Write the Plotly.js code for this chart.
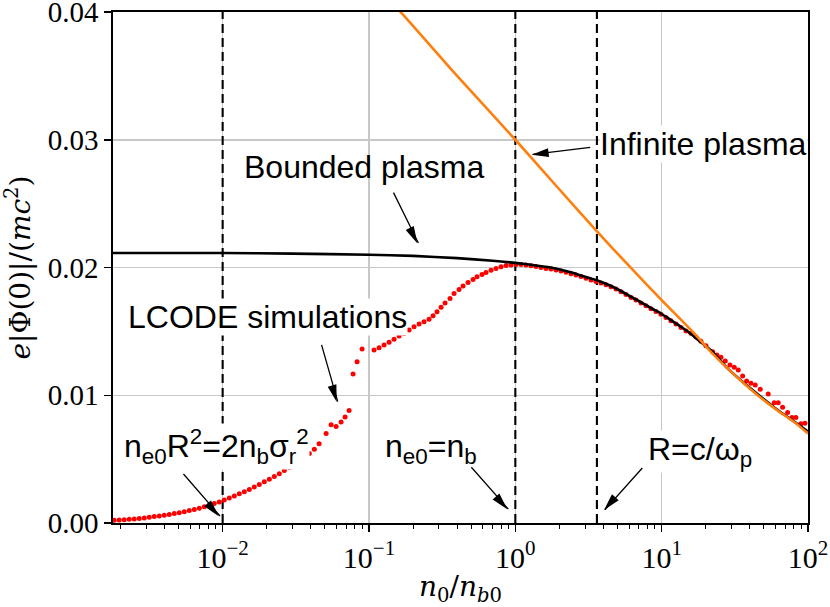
<!DOCTYPE html>
<html>
<head>
<meta charset="utf-8">
<script src="https://cdn.plot.ly/plotly-3.0.1.min.js"></script>
<style>html,body{margin:0;padding:0;background:#fff;}#chart{width:830px;height:607px;}</style>
</head>
<body>
<div id="chart"></div>
<script>
// LCODE simulations (red dots)
const simX = [0.001815,0.001964,0.002125,0.002299,0.002487,0.002691,0.002911,0.003150,0.003408,0.003687,
  0.003989,0.004316,0.004669,0.005052,0.005465,0.005913,0.006397,0.006921,0.007488,0.008101,
  0.008765,0.009483,0.01026,0.0111,0.01201,0.01299,0.01406,0.01521,0.01645,0.0178,
  0.01926,0.02084,0.02254,0.02439,0.02639,0.02855,0.03089,0.03342,0.03616,0.03912,
  0.04232,0.04561,0.05093,0.05509,0.05961,0.06447,0.06866,0.07311,0.07785,0.08292,0.08973,
  0.1083,0.1172,0.1268,0.1372,0.1484,0.1606,0.1737,0.1879,0.2032,0.2199,
  0.2378,0.2573,0.2741,0.2918,0.3108,0.3310,0.3580,0.3813,0.4125,0.4393,
  0.4752,0.5141,0.5474,0.5922,0.6307,0.6823,0.7381,0.7989,0.8641,0.9346,1.011,
  1.094,1.183,1.280,1.385,1.498,1.621,1.753,1.897,2.052,2.220,
  2.402,2.598,2.811,3.041,3.290,3.559,3.850,4.165,4.506,4.875,
  5.272,5.705,6.171,6.676,7.223,7.813,8.452,9.144,9.890,10.70,
  11.57,12.52,13.55,14.66,15.85,17.15,18.55,20.07,
  22.31,23.86,25.42,27.20,29.28,31.33,33.37,35.75,38.07,40.74,
  43.59,47.16,53.46,58.76,62.57,67.06,72.56,77.63,82.67,89.43,95.24];
const simY = [0.00022,0.00024,0.00026,0.00029,0.00032,0.00036,0.00040,0.00045,0.00050,0.00055,
  0.00061,0.00067,0.00074,0.00081,0.00089,0.00097,0.00106,0.00116,0.00127,0.00139,
  0.00152,0.00165,0.00180,0.00195,0.00211,0.00228,0.00245,0.00263,0.00282,0.00302,
  0.00322,0.00343,0.00364,0.00386,0.00410,0.00434,0.00459,0.00486,0.00515,0.00545,
  0.00578,0.0062,0.0070,0.0077,0.00755,0.0079,0.0083,0.0088,0.01166,0.01263,0.01362,
  0.01354,0.01372,0.01393,0.01414,0.01438,0.01463,0.01484,0.01510,0.01536,0.01557,
  0.01575,0.01594,0.01622,0.01653,0.01688,0.01723,0.01758,0.01797,0.01828,0.01856,
  0.01883,0.01906,0.01927,0.01945,0.01961,0.01979,0.01992,0.02005,0.02016,0.02020,0.02023,
  0.02024,0.02020,0.02014,0.02008,0.02000,0.01993,0.01989,0.01980,0.01972,0.01962,
  0.01952,0.01941,0.01929,0.01916,0.01903,0.01891,0.01878,0.01864,0.01850,0.01832,
  0.01811,0.01788,0.01766,0.01745,0.01723,0.01700,0.01678,0.01655,0.01635,0.01609,
  0.01583,0.01557,0.01531,0.01503,0.01485,0.01455,0.01422,0.01388,
  0.01341,0.01315,0.01297,0.01268,0.01237,0.01219,0.01198,0.01151,0.01112,0.01094,
  0.01080,0.01047,0.01010,0.00942,0.00942,0.00906,0.00864,0.00825,0.00825,0.00776,0.00781];

// Bounded plasma (black line)
const boundX = [0.00178,0.01,0.03,0.1,0.2,0.4,0.7,1.0,1.28,1.75,2.05,2.40,2.81,3.29,3.6,4.51,5.27,6.17,7.22,8.45,9.89,11.57,13.55,15.85,18.55,22.3,28.2,36.7,47.6,62,80.5,100];
const boundY = [0.02114,0.02113,0.02109,0.02100,0.02091,0.02073,0.02053,0.02036,0.02022,0.02000,0.01983,0.01962,0.01938,0.01914,0.01900,0.01855,0.01816,0.01771,0.01728,0.01683,0.01640,0.01588,0.01536,0.01480,0.01415,0.01340,0.01210,0.01094,0.00989,0.00885,0.00794,0.00716];

// Infinite plasma (orange line)
const infX = [0.14,0.1614,0.4,1,1.9,3.56,5.9,10,16.7,21.7,28.2,36.7,47.6,62,80.5,100];
const infY = [0.0408,0.0401,0.0350,0.0300,0.0264,0.0229,0.0202,0.01745,0.01484,0.0134,0.0121,0.0109,0.0098,0.0088,0.0079,0.0070];

// vertical dashed markers
const vLines = [0.01, 1, 3.61];

const xTickVals = [0.01, 0.1, 1, 10, 100];
const xTickText = ['10<sup>\u22122</sup>','10<sup>\u22121</sup>','10<sup>0</sup>','10<sup>1</sup>','10<sup>2</sup>'];
const yTickVals = [0, 0.01, 0.02, 0.03, 0.04];
const yTickText = ['0.00','0.01','0.02','0.03','0.04'];

const serif = 'Liberation Serif, DejaVu Serif, serif';
const titleSerif = 'DejaVu Serif, Liberation Serif, serif';
const sans = 'Liberation Sans, Arial, sans-serif';

const traces = [];
vLines.forEach(v => traces.push({x:[v,v], y:[0,0.04], mode:'lines', line:{color:'#000', width:2.1, dash:'9px,5px'}, hoverinfo:'skip', showlegend:false}));
traces.push({x:simX, y:simY, mode:'markers', marker:{color:'#ff0000', size:5}, showlegend:false});
traces.push({x:boundX, y:boundY, mode:'lines', line:{color:'#000', width:2.6, shape:'spline', smoothing:0.6}, showlegend:false});
traces.push({x:infX, y:infY, mode:'lines', line:{color:'#ff7f0e', width:2.6, shape:'spline', smoothing:0.6}, showlegend:false});

const L = Math.log10;
function arrow(tx, ty, hx, hy){
  return {x:L(hx), y:hy, ax:L(tx), ay:ty, axref:'x', ayref:'y', xref:'x', yref:'y', text:'', showarrow:true,
    arrowhead:0, arrowwidth:1.3, arrowcolor:'#000', standoff:0, startstandoff:0};
}
// arrowhead triangle anchored at tip, given in paper units, offsets in pixels
function head(xp, yp, pts){
  return {type:'path', xref:'paper', yref:'paper', xsizemode:'pixel', ysizemode:'pixel', xanchor:xp, yanchor:yp,
    path:'M0,0L' + pts[0] + ',' + pts[1] + 'L' + pts[2] + ',' + pts[3] + 'Z',
    fillcolor:'#000', line:{width:0}, layer:'above'};
}
function label(txt, x, y, bg){
  const a = {x:L(x), y:y, xref:'x', yref:'y', text:txt, showarrow:false, xanchor:'center', yanchor:'middle',
    font:{family:sans, size:32, color:'#000'}, borderpad:0};
  if(bg) a.bgcolor = '#ffffff';
  return a;
}

const arrowsDef = [
  [0.1454, 0.02598, 0.2175, 0.02192, 0.4378, 0.5475, [-3.47,17.24,-11.55,13.26]],
  [3.326, 0.02942, 1.315, 0.02885, 0.6024, 0.7207, [16.32,6.56,17.42,-2.38]],
  [0.04709, 0.01406, 0.06119, 0.0095, 0.3219, 0.2369, [-0.34,17.59,-9.00,15.11]],
  [0.00529, 0.00395, 0.009585, 0.00055, 0.1522, 0.0133, [-7.75,15.78,-14.55,9.88]],
  [0.4905, 0.00448, 0.8957, 0.00109, 0.5673, 0.0268, [-7.89,15.71,-14.63,9.75]],
  [7.534, 0.00442, 4.10, 0.00104, 0.7065, 0.0254, [7.97,15.68,14.69,9.68]]
];

const annotations = [
  label('Bounded plasma', 0.0926, 0.0279, false),
  label('Infinite plasma', 19.44, 0.0297, true),
  label('LCODE simulations', 0.02014, 0.0161, true),
  label('n<sub>e0</sub>R<sup>2</sup>=2n<sub>b</sub>σ<sub>r</sub><sup>2</sup>', 0.0091, 0.0060, true),
  label('n<sub>e0</sub>=n<sub>b</sub>', 0.2655, 0.0058, true),
  label('R=c/ω<sub>p</sub>', 18.26, 0.0056, true)
];
const shapes = [];
arrowsDef.forEach(a => { annotations.push(arrow(a[0], a[1], a[2], a[3])); shapes.push(head(a[4], a[5], a[6])); });

const layout = {
  width:830, height:607,
  margin:{l:113, r:22, t:12, b:84},
  paper_bgcolor:'#fff', plot_bgcolor:'#fff',
  showlegend:false,
  xaxis:{type:'log', range:[-2.7493, 2.0], showgrid:true, gridcolor:'#c8c8c8', gridwidth:1.5,
    tickmode:'array', tickvals:xTickVals, ticktext:xTickText,
    ticks:'outside', ticklen:7, tickwidth:1.5, tickcolor:'#000', ticklabeloverflow:'allow',
    showline:true, linecolor:'#000', linewidth:1.6, mirror:true, zeroline:false,
    tickfont:{family:serif, size:30, color:'#000'},
    minor:{ticks:'outside', ticklen:4, tickwidth:1, tickcolor:'#000', dtick:'D1', showgrid:false},
    title:{text:'<i>n</i><sub>0</sub>/<i>n</i><sub><i>b</i>0</sub>', font:{family:titleSerif, size:28, color:'#000'}, standoff:14}},
  yaxis:{range:[0,0.04], tickmode:'array', tickvals:yTickVals, ticktext:yTickText, showgrid:true, gridcolor:'#c8c8c8', gridwidth:1.5,
    ticks:'outside', ticklen:7, tickwidth:1.5, tickcolor:'#000', ticklabeloverflow:'allow',
    showline:true, linecolor:'#000', linewidth:1.6, mirror:true, zeroline:false,
    tickfont:{family:serif, size:29, color:'#000'},
    title:{text:'<i>e</i>|Φ(0)|/(<i>mc</i><sup>2</sup>)', font:{family:titleSerif, size:28, color:'#000'}, standoff:10}},
  annotations:annotations,
  shapes:shapes
};

Plotly.newPlot('chart', traces, layout, {staticPlot:true, displayModeBar:false});
</script>
</body>
</html>
